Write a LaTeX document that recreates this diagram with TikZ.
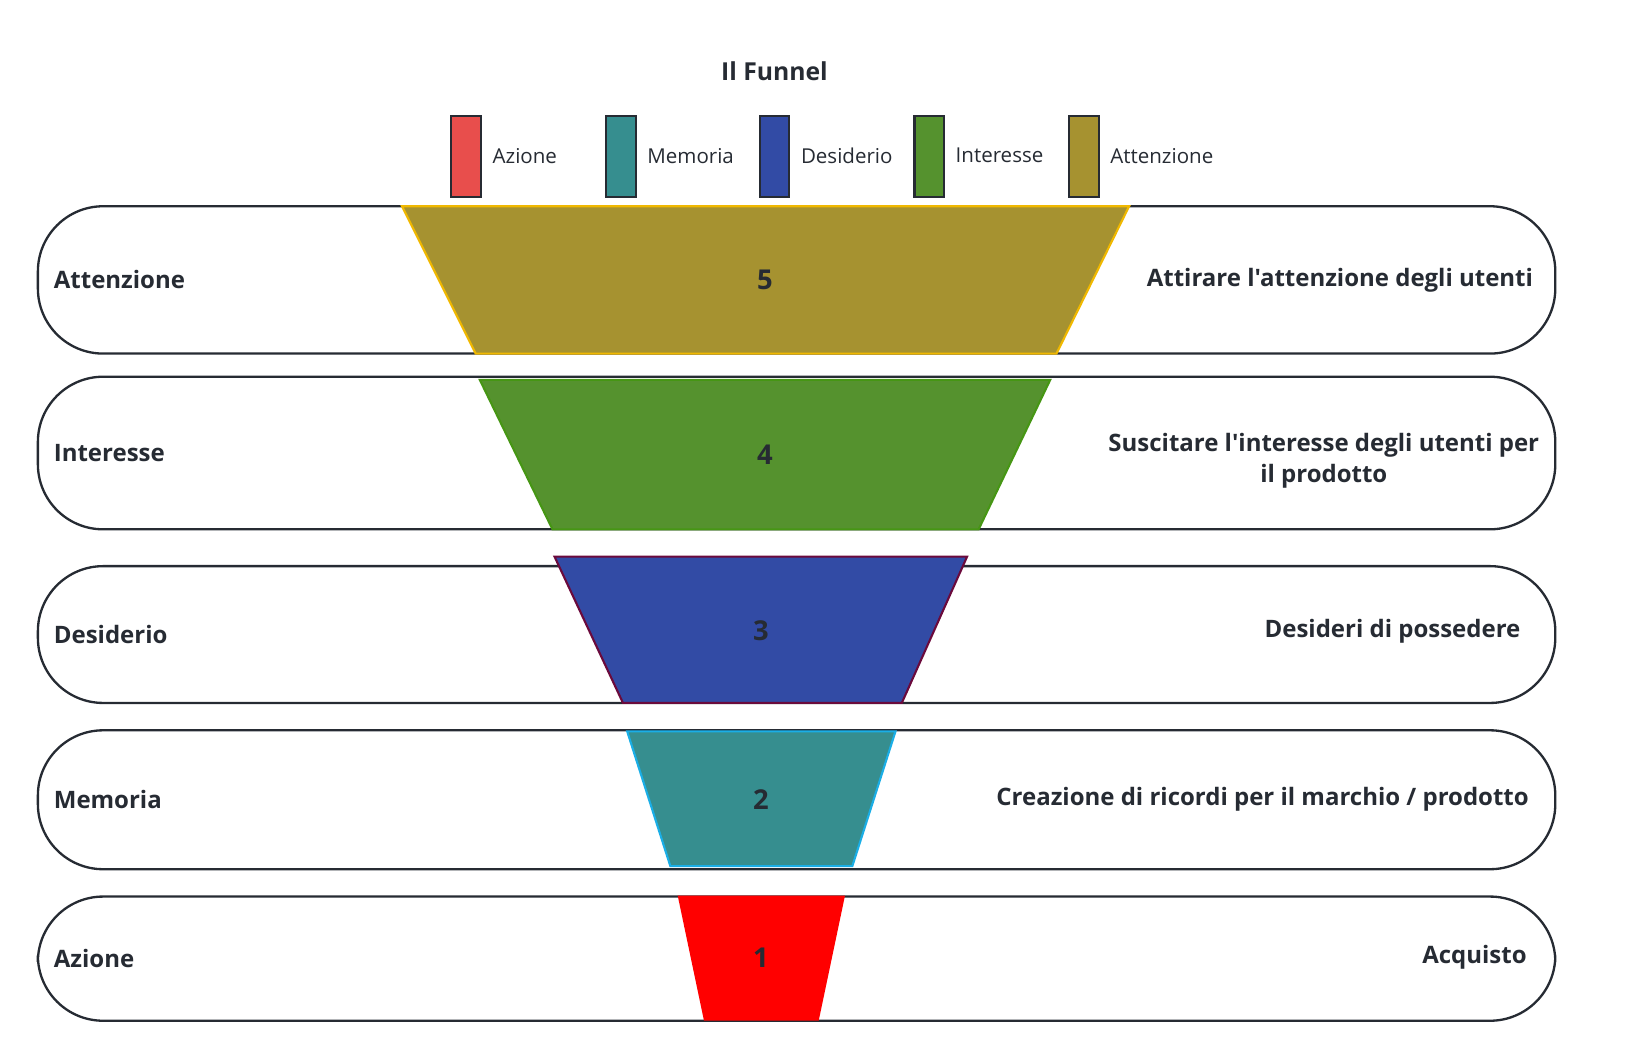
\documentclass[tikz,border=0pt]{standalone}
\usepackage{fontspec}
\setmainfont{Open Sans}[Ligatures=TeXOff]
\definecolor{ink}{HTML}{262B33}
\definecolor{cA}{HTML}{E84E4C}\definecolor{cM}{HTML}{368E8F}\definecolor{cD}{HTML}{324BA5}
\definecolor{cI}{HTML}{55922E}\definecolor{cT}{HTML}{A69230}
\begin{document}
\begin{tikzpicture}[x=1pt,y=-1pt,
 pill/.style={draw=ink,line width=2.2pt,rounded corners=62pt},
 lab/.style={font=\fontsize{22.8}{29}\selectfont\bfseries,text=ink},
 num/.style={font=\fontsize{26}{30}\selectfont\bfseries,text=ink},
 leg/.style={draw=ink,line width=2pt},
 legt/.style={font=\fontsize{19.5}{23}\selectfont,text=ink,anchor=west}]
\useasboundingbox (0,0) rectangle (1568,1007);
\node[font=\fontsize{23.5}{26}\selectfont\bfseries,text=ink] (title) at (736,68) {Il Funnel};
\foreach \x/\c/\t in {429/cA/Azione,576/cM/Memoria,722/cD/Desiderio,869/cI/Interesse,1016/cT/Attenzione}{
 \draw[leg,fill=\c] (\x,110) rectangle (\x+28,187);
 \node[legt,inner sep=1pt] (l\t) at (\x+38,148) {\t};}
% pills
\draw[pill] (36,196) rectangle (1478,336);
\draw[pill] (36,358) rectangle (1478,503);
\draw[pill] (36,538) rectangle (1478,668);
\draw[pill] (36,694) rectangle (1478,826);
\draw[pill] (36,852) rectangle (1478,970);
% trapezoids
\draw[fill=cT,draw={rgb,255:red,240;green,184;blue,0},line width=2pt] (382,196)--(1073,196)--(1004,336)--(452,336)--cycle;
\draw[fill=cI,draw={rgb,255:red,70;green,150;blue,20},line width=2pt] (456,361)--(998,361)--(930,503)--(525,503)--cycle;
\draw[fill=cD,draw={rgb,255:red,107;green,10;blue,60},line width=2pt] (527,529)--(919,529)--(857,668)--(592,668)--cycle;
\draw[fill=cM,draw={rgb,255:red,26;green,174;blue,230},line width=2pt] (596,695)--(851,695)--(810,823)--(637,823)--cycle;
\fill[red] (644,851)--(803,851)--(778,970)--(669,970)--cycle;
\node[num] (n5) at (727,266) {5};
\node[num] (n4) at (727,432) {4};
\node[num] (n3) at (723,599) {3};
\node[num] (n2) at (723,760) {2};
\node[num] (n1) at (723,910) {1};
\node[lab,anchor=west,inner sep=1pt] (a5) at (50,266) {Attenzione};
\node[lab,anchor=west,inner sep=1pt] (a4) at (50,431) {Interesse};
\node[lab,anchor=west,inner sep=1pt] (a3) at (50,603) {Desiderio};
\node[lab,anchor=west,inner sep=1pt] (a2) at (50,760) {Memoria};
\node[lab,anchor=west,inner sep=1pt] (a1) at (50,911) {Azione};
\node[lab,anchor=east,inner sep=1pt] (r5) at (1458,266) {Attirare l'attenzione degli utenti};
\node[lab,align=center] (r4) at (1258,438) {Suscitare l'interesse degli utenti per\\il prodotto};
\node[lab,anchor=east,inner sep=1pt] (r3) at (1446,600) {Desideri di possedere};
\node[lab,anchor=east,inner sep=1pt] (r2) at (1454,760) {Creazione di ricordi per il marchio / prodotto};
\node[lab,anchor=east,inner sep=1pt] (r1) at (1452,910) {Acquisto};
\end{tikzpicture}
\end{document}
